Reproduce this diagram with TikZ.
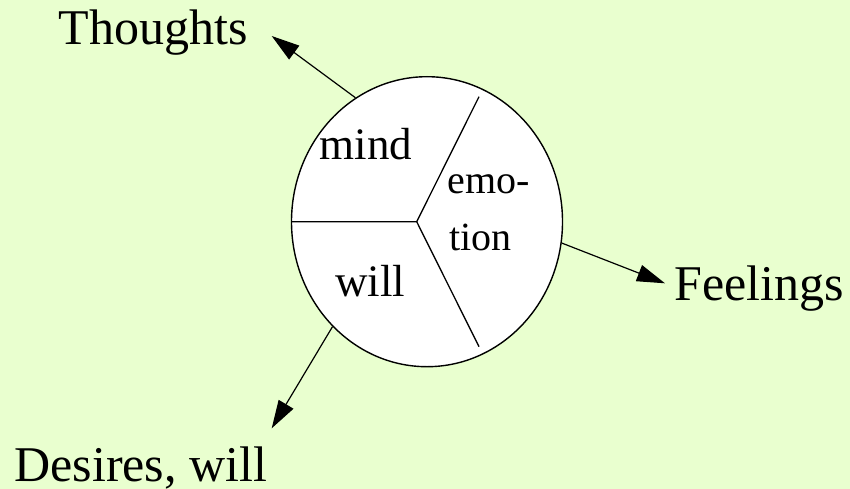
\documentclass[tikz,border=0pt]{standalone}
\usepackage{fontspec}
\setmainfont{Liberation Serif}
\usetikzlibrary{shapes.geometric,arrows.meta}
\definecolor{bg}{RGB}{233,255,207}
\begin{document}
\begin{tikzpicture}[x=1pt,y=1pt,
  outer/.style={inner sep=0pt,anchor=base west,font=\fontsize{50}{60}\selectfont},
  inner/.style={inner sep=0pt,anchor=base west,font=\fontsize{45}{54}\selectfont},
  innersmall/.style={inner sep=0pt,anchor=base west,font=\fontsize{40}{48}\selectfont},
  divider/.style={line width=1.3pt},
  conn/.style={line width=1.2pt,-{Triangle[length=28pt,width=17pt]}}]
\fill[bg] (0,0) rectangle (850,-489);
\useasboundingbox (0,0) rectangle (850,-489);
\node[ellipse,draw,line width=1.4pt,fill=white,minimum width=271pt,minimum height=290pt,inner sep=0pt] (c) at (427,-221.7) {};
\coordinate (m) at (416.7,-221.7);
\coordinate (dl) at (291.7,-221.7);
\coordinate (du) at (479,-96.7);
\coordinate (dd) at (479,-346.7);
\draw[divider] (dl) -- (m) -- (du);
\draw[divider] (m) -- (dd);
\node[inner] (mind) at (319.5,-160) {mind};
\node[inner] (will) at (335,-296.7) {will};
\node[innersmall] (emo) at (447.5,-193.3) {emo-};
\node[innersmall] (tion) at (449.5,-250) {tion};
\node[outer] (th) at (58.5,-45) {Thoughts};
\node[outer] (fe) at (674.5,-300) {Feelings};
\node[outer] (de) at (14.2,-481.7) {Desires, will};
\coordinate (tth) at (271.7,-36);
\coordinate (tfe) at (665,-283.3);
\coordinate (tde) at (271.7,-428.3);
\draw[conn] (c.120) -- (tth);
\draw[conn] (c.-9.1) -- (tfe);
\draw[conn] (c.228) -- (tde);
\end{tikzpicture}
\end{document}
